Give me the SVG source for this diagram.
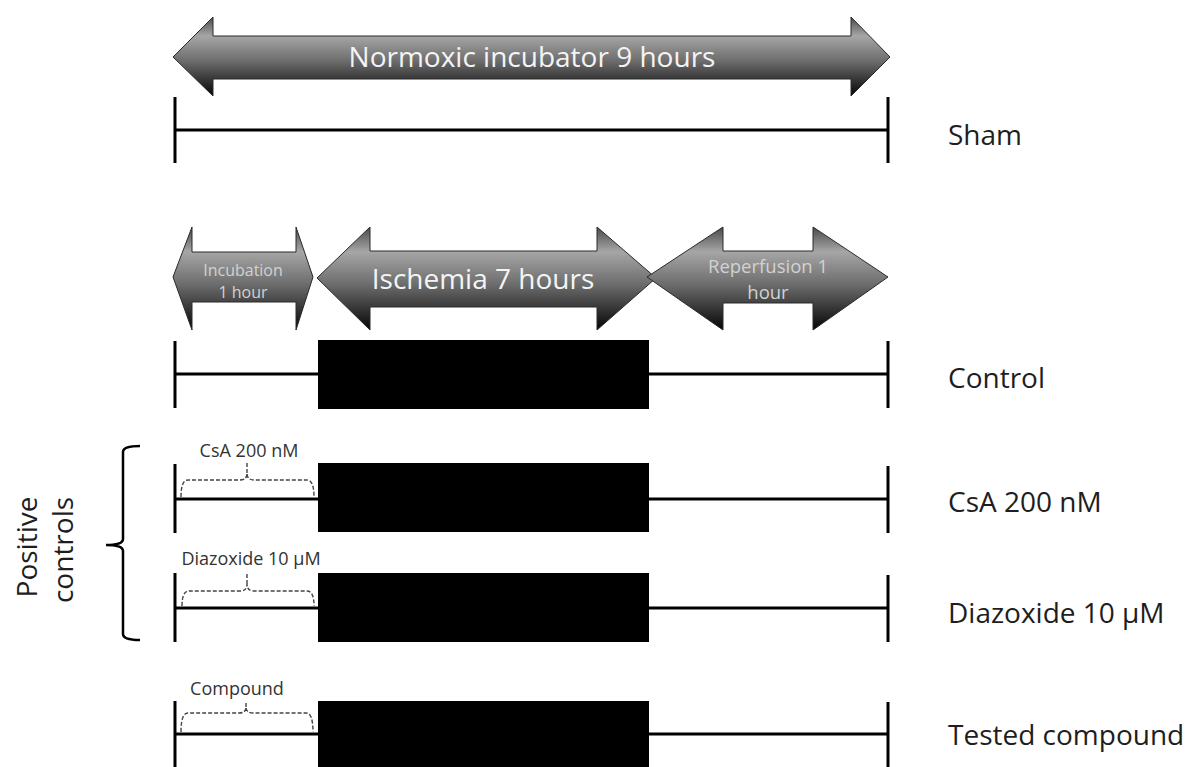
<svg xmlns="http://www.w3.org/2000/svg" width="1192" height="767" viewBox="0 0 1192 767">
<style>
.arrow{stroke:#2a2a2a;stroke-width:1;fill:url(#shade)}
.bar{stroke:#000;stroke-width:3;fill:none}
.tick{stroke:#000;stroke-width:3}
.block{fill:#000}
.dash{stroke:#444;stroke-width:1.4;fill:none;stroke-dasharray:4 2}
.lbl{font-family:"Open Sans","Liberation Sans",sans-serif;font-size:28px;fill:#1e1e1e}
.small{font-family:"Open Sans","Liberation Sans",sans-serif;font-size:18px;fill:#333;text-anchor:middle}
.inw{font-family:"Open Sans","Liberation Sans",sans-serif;fill:#f4f4f4;text-anchor:middle}
.ing{font-family:"Open Sans","Liberation Sans",sans-serif;fill:#d2d2d2;text-anchor:middle}
</style>
<defs>
<linearGradient id="shade" x1="0" y1="0" x2="0" y2="1">
<stop offset="0" stop-color="#4a4a4a"/>
<stop offset="0.24" stop-color="#a6a6a6"/>
<stop offset="0.55" stop-color="#6e6e6e"/>
<stop offset="1" stop-color="#050505"/>
</linearGradient>
</defs>

<g id="normoxic-arrow">
<path class="arrow" d="M173,57 L213,17 L213,36 L851,36 L851,17 L890,57 L851,96 L851,79 L213,79 L213,96 Z"/>
<text class="inw" x="532" y="67" font-size="28">Normoxic incubator 9 hours</text>
</g>

<g id="incubation-arrow">
<path class="arrow" d="M173,277 L192,227 L192,252 L296,252 L296,227 L313,277 L296,330 L296,302 L192,302 L192,330 Z"/>
<text class="ing" x="243" y="276" font-size="16">Incubation</text>
<text class="ing" x="243" y="298" font-size="16">1 hour</text>
</g>

<g id="ischemia-arrow">
<path class="arrow" d="M317,278 L370,227 L370,251 L597,251 L597,227 L656,278 L597,330 L597,307 L370,307 L370,330 Z"/>
<text class="inw" x="483" y="289" font-size="28">Ischemia 7 hours</text>
</g>

<g id="reperfusion-arrow">
<path class="arrow" d="M647,277 L723,227 L723,251 L813,251 L813,227 L888,277 L813,330 L813,303 L723,303 L723,330 Z"/>
<text class="ing" x="768" y="273" font-size="18.5">Reperfusion 1</text>
<text class="ing" x="768" y="299" font-size="18.5">hour</text>
</g>

<g id="sham">
<line class="bar" x1="175" y1="130" x2="888" y2="130"/>
<line class="tick" x1="175" y1="97" x2="175" y2="163"/>
<line class="tick" x1="888" y1="97" x2="888" y2="163"/>
<text class="lbl" x="948" y="145">Sham</text>
</g>

<g id="control">
<line class="bar" x1="175" y1="374" x2="888" y2="374"/>
<line class="tick" x1="175" y1="341" x2="175" y2="408"/>
<line class="tick" x1="888" y1="341" x2="888" y2="408"/>
<rect class="block" x="318" y="340" width="331" height="69"/>
<text class="lbl" x="948" y="388">Control</text>
</g>

<g id="csa">
<line class="bar" x1="175" y1="499" x2="888" y2="499"/>
<line class="tick" x1="175" y1="464" x2="175" y2="533"/>
<line class="tick" x1="888" y1="466" x2="888" y2="533"/>
<rect class="block" x="318" y="463" width="331" height="69"/>
<path class="dash" d="M181,497 Q181,480 188,480 L240,480 Q247,480 247,473 Q247,480 254,480 L307,480 Q314,480 314,497 M247,473 L247,462"/>
<text class="small" x="249" y="457">CsA 200 nM</text>
<text class="lbl" x="948" y="512">CsA 200 nM</text>
</g>

<g id="diazoxide">
<line class="bar" x1="175" y1="608" x2="888" y2="608"/>
<line class="tick" x1="175" y1="573" x2="175" y2="642"/>
<line class="tick" x1="888" y1="575" x2="888" y2="642"/>
<rect class="block" x="318" y="573" width="331" height="69"/>
<path class="dash" d="M182,606 Q182,591 189,591 L240,591 Q247,591 247,584 Q247,591 254,591 L307,591 Q314,591 314,606 M247,584 L247,573"/>
<text class="small" x="251" y="565">Diazoxide 10 µM</text>
<text class="lbl" x="948" y="623">Diazoxide 10 µM</text>
</g>

<g id="tested-compound">
<line class="bar" x1="175" y1="734" x2="888" y2="734"/>
<line class="tick" x1="175" y1="701" x2="175" y2="767"/>
<line class="tick" x1="888" y1="702" x2="888" y2="767"/>
<rect class="block" x="318" y="701" width="331" height="70"/>
<path class="dash" d="M181,732 Q181,713 188,713 L239,713 Q246,713 246,707 Q246,713 253,713 L306,713 Q313,713 313,732 M246,707 L246,702"/>
<text class="small" x="237" y="695">Compound</text>
<text class="lbl" x="948" y="745">Tested compound</text>
</g>

<g id="positive-controls">
<path d="M140,446 Q123,446 123,452 L123,539 Q123,545 106,545 Q123,545 123,551 L123,634 Q123,640 140,640" fill="none" stroke="#000" stroke-width="2.5"/>
<text class="lbl" transform="translate(37,547) rotate(-90)" text-anchor="middle">Positive</text>
<text class="lbl" transform="translate(73,550) rotate(-90)" text-anchor="middle">controls</text>
</g>

<g id="connectors"></g>
</svg>
